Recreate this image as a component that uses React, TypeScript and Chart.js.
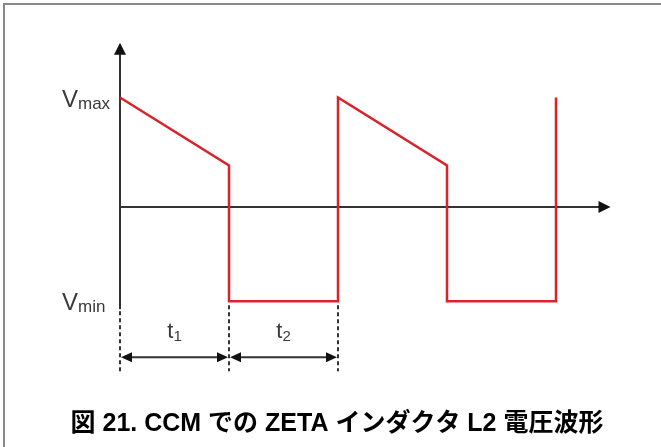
import React, { useEffect, useRef } from "react";
import { Chart, registerables } from "chart.js";

Chart.register(...registerables);

// Time instants of the waveform corners (units of one switching interval)
const cornerTimes = [0, 1, 1, 2, 2, 3, 3, 4, 4];
// Inductor L2 voltage at each corner (normalised so Vmax = 1)
const cornerVolts = [1, 0.38, -0.86, -0.86, 1, 0.38, -0.86, -0.86, 1];

const V_MAX = 1;
const V_MIN = -0.86;
// Interval boundaries used for the t1 / t2 dimension marks
const intervalEdges = [0, 1, 2];
const intervalLabels = ["1", "2"];
const captionText = "図 21. CCM での ZETA インダクタ L2 電圧波形";

const W = 661;
const H = 447;

const RED = "#d9232a";
const AXIS = "#333333";
const LABEL = "#3a3a3a";

function arrowHead(ctx: CanvasRenderingContext2D, x: number, y: number, dir: "up" | "right" | "left", len = 11, half = 5.5) {
  ctx.beginPath();
  if (dir === "up") {
    ctx.moveTo(x, y);
    ctx.lineTo(x - half, y + len);
    ctx.lineTo(x + half, y + len);
  } else if (dir === "right") {
    ctx.moveTo(x, y);
    ctx.lineTo(x - len, y - half);
    ctx.lineTo(x - len, y + half);
  } else {
    ctx.moveTo(x, y);
    ctx.lineTo(x + len, y - half);
    ctx.lineTo(x + len, y + half);
  }
  ctx.closePath();
  ctx.fill();
}

const axesPlugin = {
  id: "waveAxes",
  beforeDatasetsDraw(chart: any) {
    const ctx: CanvasRenderingContext2D = chart.ctx;
    const xs = chart.scales.x;
    const ys = chart.scales.y;
    const x0 = xs.getPixelForValue(0);
    const y0 = ys.getPixelForValue(0);
    const yMin = ys.getPixelForValue(V_MIN);
    const yTop = ys.getPixelForValue(1.5);
    const xEnd = xs.getPixelForValue(4.5);
    const dimY = yMin + 56;
    const dashEnd = yMin + 70;

    ctx.save();
    // frame
    ctx.strokeStyle = "#8a8a8a";
    ctx.lineWidth = 2;
    ctx.strokeRect(4, 4, W + 20, H + 20);

    ctx.strokeStyle = AXIS;
    ctx.fillStyle = "#111";
    ctx.lineWidth = 2;
    // vertical axis
    ctx.beginPath();
    ctx.moveTo(x0, yTop + 8);
    ctx.lineTo(x0, yMin + 8);
    ctx.stroke();
    arrowHead(ctx, x0, yTop, "up", 12, 6);
    // horizontal axis
    ctx.beginPath();
    ctx.moveTo(x0, y0);
    ctx.lineTo(xEnd - 8, y0);
    ctx.stroke();
    arrowHead(ctx, xEnd, y0, "right", 12, 6);

    // dashed extension lines
    ctx.setLineDash([4, 3]);
    intervalEdges.forEach((t, i) => {
      const px = xs.getPixelForValue(t);
      ctx.beginPath();
      ctx.moveTo(px, i === 0 ? yMin + 10 : yMin + 4);
      ctx.lineTo(px, dashEnd);
      ctx.stroke();
    });
    ctx.setLineDash([]);

    // dimension arrows
    for (let i = 0; i < intervalEdges.length - 1; i++) {
      const a = xs.getPixelForValue(intervalEdges[i]) + 1;
      const b = xs.getPixelForValue(intervalEdges[i + 1]) - 1;
      ctx.beginPath();
      ctx.moveTo(a + 6, dimY);
      ctx.lineTo(b - 6, dimY);
      ctx.stroke();
      arrowHead(ctx, a, dimY, "left", 11, 5);
      arrowHead(ctx, b, dimY, "right", 11, 5);
    }
    ctx.restore();
  },
  afterDatasetsDraw(chart: any) {
    const ctx: CanvasRenderingContext2D = chart.ctx;
    const xs = chart.scales.x;
    const ys = chart.scales.y;
    const yMin = ys.getPixelForValue(V_MIN);

    ctx.save();
    ctx.fillStyle = LABEL;
    ctx.textBaseline = "alphabetic";
    ctx.textAlign = "left";

    const vLabel = (sub: string, yv: number) => {
      ctx.font = "24px 'Liberation Sans', Arial, sans-serif";
      ctx.fillText("V", 62, yv + 9);
      const w = ctx.measureText("V").width;
      ctx.font = "17px 'Liberation Sans', Arial, sans-serif";
      ctx.fillText(sub, 62 + w, yv + 11);
    };
    vLabel("max", ys.getPixelForValue(V_MAX));
    vLabel("min", yMin);

    // interval labels
    for (let i = 0; i < intervalLabels.length; i++) {
      const mid = (xs.getPixelForValue(intervalEdges[i]) + xs.getPixelForValue(intervalEdges[i + 1])) / 2;
      ctx.font = "22px 'Liberation Sans', Arial, sans-serif";
      const wt = ctx.measureText("t").width;
      ctx.font = "15px 'Liberation Sans', Arial, sans-serif";
      const ws = ctx.measureText(intervalLabels[i]).width;
      const left = mid - (wt + ws) / 2;
      ctx.font = "22px 'Liberation Sans', Arial, sans-serif";
      ctx.fillText("t", left, yMin + 37);
      ctx.font = "15px 'Liberation Sans', Arial, sans-serif";
      ctx.fillText(intervalLabels[i], left + wt, yMin + 40);
    }

    // caption
    ctx.fillStyle = "#000";
    ctx.textAlign = "center";
    ctx.font = "bold 25px 'Liberation Sans', 'Noto Sans CJK JP', sans-serif";
    ctx.fillText(captionText, 337, 431);
    ctx.restore();
  },
};

export default function App() {
  const ref = useRef<HTMLCanvasElement | null>(null);

  useEffect(() => {
    document.body.style.margin = "0";
    const canvas = ref.current;
    if (!canvas) return;
    // pixel mapping: t=0 -> x 120, 109 px per interval; V=0 -> y 207, 109.5 px per unit
    const pxT = 109;
    const pxV = 109.5;
    const chart = new Chart(canvas, {
      type: "line",
      data: {
        datasets: [
          {
            data: cornerTimes.map((t, i) => ({ x: t, y: cornerVolts[i] })),
            borderColor: RED,
            borderWidth: 2.5,
            pointRadius: 0,
            tension: 0,
            fill: false,
            borderJoinStyle: "miter",
          },
        ],
      },
      options: {
        responsive: false,
        animation: false,
        layout: { padding: 0 },
        plugins: { legend: { display: false }, tooltip: { enabled: false } },
        scales: {
          x: { type: "linear", display: false, min: -120 / pxT, max: (W - 120) / pxT },
          y: { type: "linear", display: false, min: -(H - 207) / pxV, max: 207 / pxV },
        },
      },
      plugins: [axesPlugin],
    });
    return () => chart.destroy();
  }, []);

  return (
    <div style={{ position: "fixed", left: 0, top: 0, width: W, height: H, background: "#fff" }}>
      <canvas ref={ref} width={W} height={H} style={{ display: "block" }} />
    </div>
  );
}
